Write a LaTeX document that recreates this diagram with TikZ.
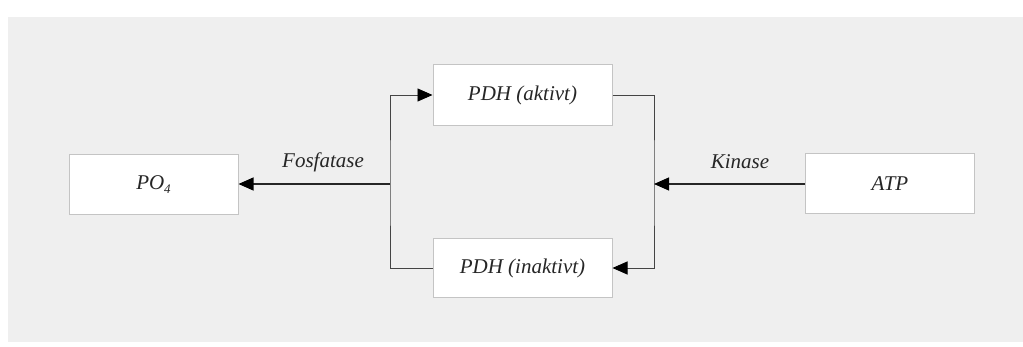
\documentclass[tikz,border=0pt]{standalone}
\usepackage{fontspec}
\setmainfont{Liberation Serif}
\usetikzlibrary{arrows.meta}
\definecolor{bgc}{HTML}{EFEFEF}
\definecolor{boxline}{HTML}{C4C4C4}
\definecolor{conn}{HTML}{444444}
\begin{document}
\begin{tikzpicture}[x=1pt,y=-1pt,
  txt/.style={font=\fontsize{21}{25}\selectfont\itshape,text=black!85},
  box/.style={txt,draw=boxline,line width=1pt,fill=white,minimum width=169pt,minimum height=60pt,inner sep=0pt},
  lbl/.style={txt,inner sep=0pt},
  conline/.style={draw=conn,line width=0.9pt},
  arr/.style={conline,-{Triangle[length=15pt,width=13pt,color=black,fill=black]}},
  harr/.style={arr,draw=black!85,line width=1.2pt}]
\useasboundingbox (0,0) rectangle (1023,347);
\fill[white] (0,0) rectangle (1023,347);
\fill[bgc] (8,17) rectangle (1023,342);
\node[box] (po4) at (153.5,184.5) {PO\raisebox{-0.45ex}{\fontsize{13}{15}\selectfont 4}};
\node[box,minimum width=179pt,minimum height=61pt] (act) at (522.5,95) {PDH (aktivt)};
\node[box,minimum width=179pt,minimum height=59pt] (inact) at (522.5,268) {PDH (inaktivt)};
\node[box] (atp) at (890,184) {ATP};
\coordinate (lm) at (390,184);
\coordinate (rm) at (654,184);
\draw[arr] (inact.west) -| (lm) |- (act.west);
\draw[arr] (act.east) -| (rm) |- (inact.east);
\draw[harr] (lm) -- (lm -| po4.east);
\draw[harr] (atp.west) -- (rm);
\node[lbl] (fos) at (323,162) {Fosfatase};
\node[lbl] (kin) at (740,162) {Kinase};
\end{tikzpicture}
\end{document}
